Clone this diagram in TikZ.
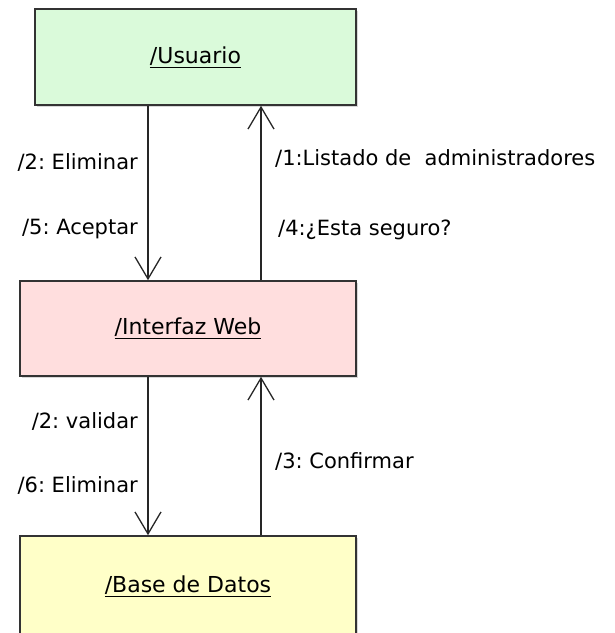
\documentclass[tikz,border=0pt]{standalone}
\usepackage{fontspec}
\setmainfont{DejaVu Sans}
\usepackage{tikz}
\usetikzlibrary{arrows.meta,positioning,shadows}
\definecolor{usrgreen}{RGB}{218,250,218}
\definecolor{webpink}{RGB}{255,222,222}
\definecolor{dbyellow}{RGB}{255,255,200}
\frenchspacing
\tikzset{
  obj/.style={draw=black!80, line width=1.6pt, minimum width=336pt, minimum height=95pt,
    inner sep=0pt, font=\fontsize{22}{26}\selectfont,
    drop shadow={shadow xshift=2pt, shadow yshift=-2pt, fill=black!30}},
  msg/.style={draw=black!85, line width=1.3pt,
    -{Straight Barb[length=22pt,width=26pt,line width=1.3pt]}},
  lbl/.style={inner sep=0pt, font=\fontsize{21}{25}\selectfont}
}
\begin{document}
\begin{tikzpicture}[x=1pt,y=-1pt]
  \useasboundingbox (0,0) rectangle (615,633);
  \node[obj, fill=usrgreen, minimum width=321pt, minimum height=96pt] (usuario) at (195.5,57) {\underline{/Usuario}};
  \node[obj, fill=webpink] (web) at (188,328.5) {\underline{/Interfaz Web}};
  \node[obj, fill=dbyellow, minimum height=100pt] (bd) at (188,586) {\underline{/Base de Datos}};
  \coordinate (l) at (148,0);
  \coordinate (r) at (261,0);
  \draw[msg] (usuario.south -| l) -- (web.north -| l);
  \draw[msg] (web.north -| r) -- (usuario.south -| r);
  \draw[msg] (web.south -| l) -- (bd.north -| l);
  \draw[msg] (bd.north -| r) -- (web.south -| r);
  \foreach \y/\t [count=\i] in {162/{/2: Eliminar}, 229/{/5: Aceptar}, 421/{/2: validar}, 485/{/6: Eliminar}}
    \node[lbl, anchor=east] (izq\i) at (138,\y) {\t};
  \node[lbl, anchor=west] (der1) at (275,158) {/1:Listado de\ \ administradores};
  \node[lbl, anchor=west] (der2) at (278,230) {/4:¿Esta seguro?};
  \node[lbl, anchor=west] (der3) at (275,461) {/3: Confirmar};
\end{tikzpicture}
\end{document}
